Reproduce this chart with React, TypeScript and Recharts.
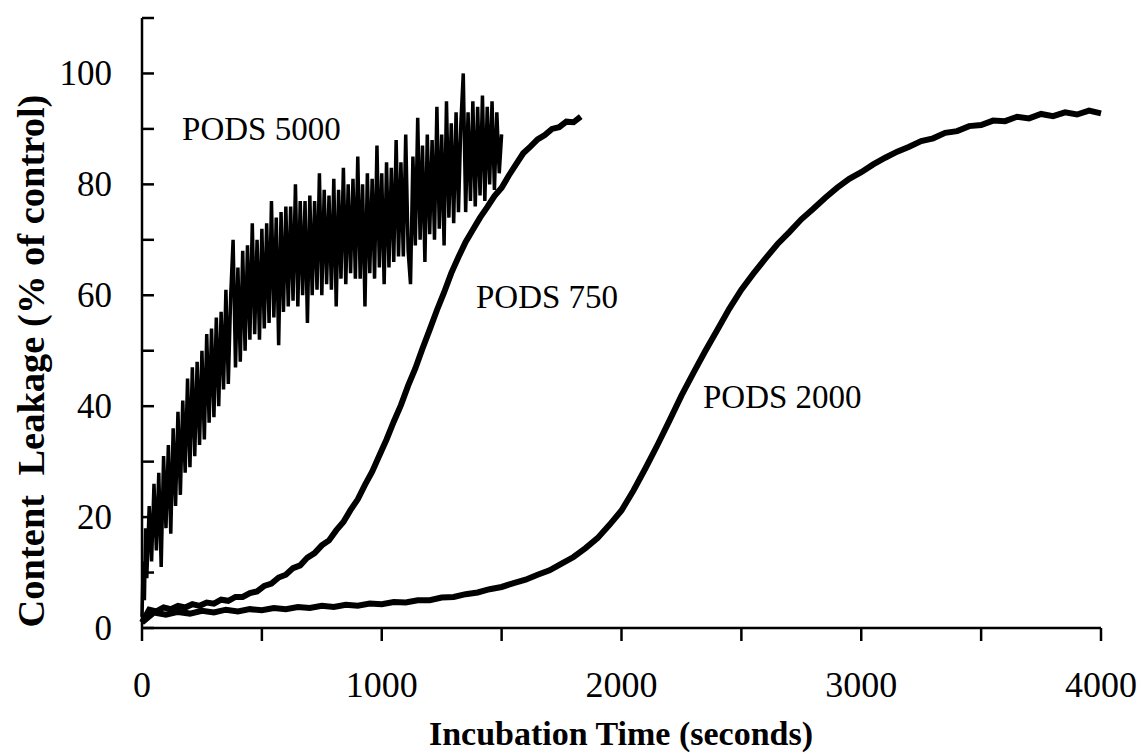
import React from 'react';
import { LineChart, Line, XAxis, YAxis, ReferenceDot, Label } from 'recharts';

const FONT = '"Liberation Serif", "Times New Roman", Times, serif';

const xTicks = [0, 500, 1000, 1500, 2000, 2500, 3000, 3500, 4000];
const yTicks = [0, 10, 20, 30, 40, 50, 60, 70, 80, 90, 100, 110];

const xTitle = 'Incubation Time (seconds)';
const yTitle = 'Content  Leakage (% of control)';

// PODS 5000 (noisy, fast)
const pods5000Times = [
  0, 5, 10, 15, 20, 30, 40, 50, 60, 70, 80, 90, 100, 110, 120, 130, 140, 150, 160, 170, 180, 190,
  200, 210, 220, 230, 240, 250, 260, 270, 280, 290, 300, 310, 320, 330, 340, 350, 360, 370, 380, 390,
  400, 410, 420, 430, 440, 450, 460, 470, 480, 490, 500, 510, 520, 530, 540, 550, 560, 570, 580, 590,
  600, 610, 620, 630, 640, 650, 660, 670, 680, 690, 700, 710, 720, 730, 740, 750, 760, 770, 780, 790,
  800, 810, 820, 830, 840, 850, 860, 870, 880, 890, 900, 910, 920, 930, 940, 950, 960, 970, 980, 990,
  1000, 1010, 1020, 1030, 1040, 1050, 1060, 1070, 1080, 1090, 1100, 1110, 1120, 1130, 1140, 1150, 1160, 1170, 1180, 1190,
  1200, 1210, 1220, 1230, 1240, 1250, 1260, 1270, 1280, 1290, 1300, 1310, 1320, 1330, 1340, 1350, 1360, 1370, 1380, 1390,
  1400, 1410, 1420, 1430, 1440, 1450, 1460, 1470, 1480, 1490, 1500,
];
const pods5000Values = [
  2, 12, 5, 18, 9, 22, 12, 26, 14, 28, 11, 31, 18, 33, 17, 36, 22, 39, 24, 41, 28, 45,
  29, 47, 31, 48, 33, 50, 34, 53, 37, 54, 38, 56, 40, 57, 43, 61, 44, 60, 70, 47,
  65, 48, 68, 50, 69, 52, 73, 53, 70, 52, 72, 54, 73, 55, 77, 56, 74, 51, 75, 57,
  76, 58, 76, 59, 80, 58, 77, 60, 77, 55, 78, 60, 77, 61, 82, 60, 79, 62, 78, 61,
  81, 58, 79, 63, 83, 62, 80, 64, 81, 63, 85, 63, 80, 58, 82, 64, 81, 63, 87, 65,
  82, 62, 84, 65, 83, 66, 88, 67, 84, 67, 89, 68, 62, 85, 69, 92, 70, 87, 66, 89,
  71, 88, 70, 94, 72, 89, 69, 95, 74, 91, 73, 93, 75, 91, 100, 75, 93, 77, 95, 76,
  94, 78, 96, 77, 94, 80, 95, 79, 93, 82, 89,
];

// PODS 750 (sigmoidal, middle)
const pods750Times = [
  0, 30, 60, 90, 120, 150, 180, 210, 240, 270, 300, 330, 360, 390, 420, 450, 480, 510, 540, 570,
  600, 630, 660, 690, 720, 750, 780, 810, 840, 870, 900, 930, 960, 990, 1020, 1050, 1080, 1110, 1140, 1170,
  1200, 1230, 1260, 1290, 1320, 1350, 1380, 1410, 1440, 1470, 1500, 1530, 1560, 1590, 1620, 1650, 1680, 1710, 1740, 1770,
  1800, 1830,
];
const pods750Values = [
  1.0, 3.3, 3.0, 3.7, 3.4, 4.0, 3.7, 4.3, 4.0, 4.6, 4.4, 5.1, 4.9, 5.6, 5.6, 6.3, 6.6, 7.6, 8.0, 9.1,
  9.6, 10.8, 11.3, 12.7, 13.5, 14.9, 15.8, 17.6, 19.1, 21.3, 23.2, 25.8, 28.2, 31.1, 34.0, 37.2, 40.2, 43.7, 46.8, 50.4,
  53.8, 57.3, 60.5, 64.0, 66.9, 69.6, 71.8, 74.0, 75.9, 77.9, 79.4, 81.6, 83.6, 85.6, 86.8, 88.1, 88.9, 90.0, 90.3, 91.3,
  91.2, 92.2,
];

// PODS 2000 (sigmoidal, slow)
const pods2000Times = [
  0, 50, 100, 150, 200, 250, 300, 350, 400, 450, 500, 550, 600, 650, 700, 750, 800, 850, 900, 950,
  1000, 1050, 1100, 1150, 1200, 1250, 1300, 1350, 1400, 1450, 1500, 1550, 1600, 1650, 1700, 1750, 1800, 1850, 1900, 1950,
  2000, 2050, 2100, 2150, 2200, 2250, 2300, 2350, 2400, 2450, 2500, 2550, 2600, 2650, 2700, 2750, 2800, 2850, 2900, 2950,
  3000, 3050, 3100, 3150, 3200, 3250, 3300, 3350, 3400, 3450, 3500, 3550, 3600, 3650, 3700, 3750, 3800, 3850, 3900, 3950,
  4000,
];
const pods2000Values = [
  1.0, 2.8, 2.4, 2.9, 2.6, 3.1, 2.8, 3.3, 3.0, 3.4, 3.2, 3.6, 3.4, 3.8, 3.6, 4.0, 3.8, 4.2, 4.0, 4.4,
  4.3, 4.7, 4.6, 5.0, 5.0, 5.5, 5.6, 6.1, 6.4, 7.0, 7.4, 8.1, 8.7, 9.6, 10.4, 11.6, 12.8, 14.4, 16.2, 18.6,
  21.2, 24.8, 28.8, 33.0, 37.4, 41.9, 46.0, 50.0, 53.8, 57.6, 61.0, 63.9, 66.6, 69.2, 71.4, 73.7, 75.6, 77.6, 79.4, 81.0,
  82.2, 83.6, 84.8, 85.9, 86.8, 87.8, 88.3, 89.3, 89.6, 90.5, 90.7, 91.5, 91.4, 92.2, 91.9, 92.7, 92.3, 93.0, 92.6, 93.3,
  92.8,
];

const annotations = [
  { label: 'PODS 5000', t: 167, v: 88 },
  { label: 'PODS 750', t: 1393, v: 57.7 },
  { label: 'PODS 2000', t: 2340, v: 39.7 },
];

const build = (ts: number[], vs: number[]) => ts.map((t, i) => ({ t, v: vs[i] }));
const data5000 = build(pods5000Times, pods5000Values);
const data750 = build(pods750Times, pods750Values);
const data2000 = build(pods2000Times, pods2000Values);

const Y_MARGIN = 30;
const X_MARGIN = 10;

const YTick = (props: any) => {
  const { x, y, payload } = props;
  const axisX = x + Y_MARGIN;
  const v = payload.value;
  return (
    <g>
      <line x1={axisX} y1={y} x2={axisX + 12} y2={y} stroke="#000" strokeWidth={2.5} />
      {v % 20 === 0 && v <= 100 ? (
        <text x={x} y={y} dy={12} textAnchor="end" fontFamily={FONT} fontSize={35} fill="#000">
          {v}
        </text>
      ) : null}
    </g>
  );
};

const XTick = (props: any) => {
  const { x, y, payload } = props;
  const axisY = y - X_MARGIN;
  const v = payload.value;
  return (
    <g>
      <line x1={x} y1={axisY} x2={x} y2={axisY + 13} stroke="#000" strokeWidth={2.5} />
      {v % 1000 === 0 ? (
        <text x={x} y={axisY + 69} textAnchor="middle" fontFamily={FONT} fontSize={36} fill="#000">
          {v}
        </text>
      ) : null}
    </g>
  );
};

export default function App() {
  return (
    <div style={{ position: 'absolute', left: 0, top: 0, width: 1143, height: 754, background: '#fff' }}>
      <LineChart width={1143} height={754} margin={{ top: 18, right: 42, bottom: 0, left: 0 }}>
        <XAxis
          dataKey="t"
          type="number"
          domain={[0, 4000]}
          ticks={xTicks}
          interval={0}
          tickSize={0}
          tickMargin={X_MARGIN}
          tick={<XTick />}
          height={126}
          axisLine={{ stroke: '#000', strokeWidth: 2.5 }}
        >
          <Label
            content={() => (
              <text x={621} y={745} textAnchor="middle" fontFamily={FONT} fontWeight="bold" fontSize={34} fill="#000">
                {xTitle}
              </text>
            )}
          />
        </XAxis>
        <YAxis
          type="number"
          domain={[0, 110]}
          ticks={yTicks}
          interval={0}
          tickSize={0}
          tickMargin={Y_MARGIN}
          tick={<YTick />}
          width={142}
          axisLine={{ stroke: '#000', strokeWidth: 2.5 }}
        >
          <Label
            content={() => (
              <text
                x={44}
                y={361}
                transform="rotate(-90 44 361)"
                textAnchor="middle"
                fontFamily={FONT}
                fontWeight="bold"
                fontSize={38.5}
                fill="#000"
                style={{ whiteSpace: 'pre' }}
              >
                {yTitle}
              </text>
            )}
          />
        </YAxis>
        <Line data={data2000} dataKey="v" type="linear" stroke="#000" strokeWidth={6} dot={false} isAnimationActive={false} />
        <Line data={data750} dataKey="v" type="linear" stroke="#000" strokeWidth={6} dot={false} isAnimationActive={false} />
        <Line data={data5000} dataKey="v" type="linear" stroke="#000" strokeWidth={3.5} dot={false} isAnimationActive={false} />
        {annotations.map((a) => (
          <ReferenceDot
            key={a.label}
            x={a.t}
            y={a.v}
            r={1}
            ifOverflow="visible"
            shape={(p: any) => (
              <text x={p.cx} y={p.cy} fontFamily={FONT} fontSize={33} fill="#000">
                {a.label}
              </text>
            )}
          />
        ))}
      </LineChart>
    </div>
  );
}
